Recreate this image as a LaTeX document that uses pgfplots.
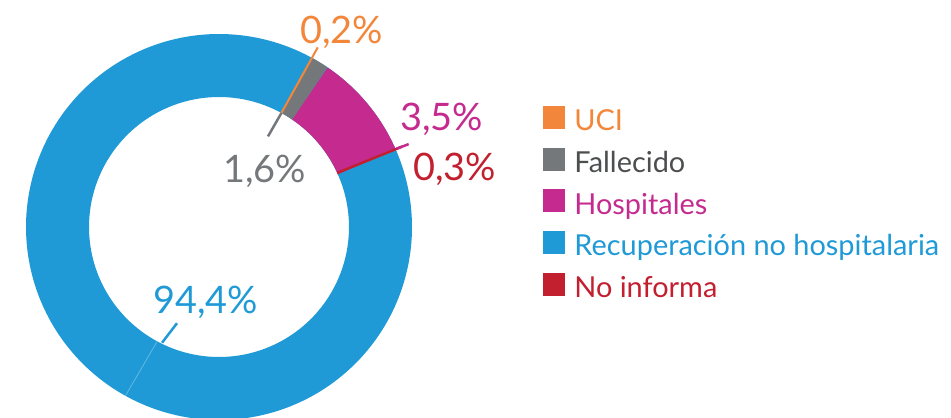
\documentclass[border=0pt]{standalone}
\usepackage{pgfplots}
\pgfplotsset{compat=1.18}
\usepackage{fontspec}
\setmainfont{Lato}
\definecolor{cblue}{HTML}{1F9AD6}
\definecolor{cblueseam}{HTML}{6BBCE4}
\definecolor{cmag}{HTML}{C52A8F}
\definecolor{cgray}{HTML}{75787B}
\definecolor{corange}{HTML}{F2873B}
\definecolor{cred}{HTML}{C2202F}
\definecolor{cdark}{HTML}{4D4E50}
\begin{document}
\begin{tikzpicture}
\begin{axis}[
  x=1bp, y=1bp, scale only axis,
  xmin=-219, xmax=732, ymin=-190, ymax=227,
  hide axis, clip=true, clip mode=individual,
  legend cell align=left,
  legend style={draw=none, fill=none, at={(0.571,0.746)}, anchor=north west,
    inner sep=0pt, outer sep=0pt, row sep=10bp,
    nodes={inner sep=0pt, outer sep=0pt, text height=22bp, text depth=7bp, font=\fontsize{29}{29}\selectfont},
    /tikz/every odd column/.append style={column sep=10bp}},
]
% fix the picture's extent to the axis rectangle
\path (rel axis cs:0,0) rectangle (rel axis cs:1,1);
% ring slices (angles in degrees, radius = middle of ring)
\addplot[forget plot, cblue, line width=63bp, data cs=polar, domain=24:421.5, samples=260] {161.5};
\addplot[forget plot, cmag, line width=63bp, data cs=polar, domain=24:55.8, samples=30] {161.5};
\addplot[forget plot, cgray, line width=63bp, data cs=polar, domain=55.8:61.5, samples=8] {161.5};
% seam and leader lines
\addplot[forget plot, cblueseam, line width=0.7bp, data cs=polar] coordinates {(241.6,130) (241.0,193)};
\addplot[forget plot, corange, line width=2bp, data cs=polar] coordinates {(61.3,130) (61.2,205)};
\addplot[forget plot, cgray, line width=2.5bp, data cs=polar] coordinates {(61.6,103) (61.3,130)};
\addplot[forget plot, cred, line width=2.5bp, data cs=polar] coordinates {(24.6,130) (23.7,200)};
\addplot[forget plot, cmag, line width=2.5bp, data cs=polar] coordinates {(23.8,194) (23.6,207)};
\addplot[forget plot, cblue, line width=2.5bp, data cs=polar] coordinates {(243.8,129) (246.4,105)};
% value labels
\node[anchor=base west, inner sep=0pt, text=corange, font=\fontsize{38}{38}\selectfont] at (axis cs:81,184) {0,2\%};
\node[anchor=base west, inner sep=0pt, text=cmag, font=\fontsize{38}{38}\selectfont] at (axis cs:181,97) {3,5\%};
\node[anchor=base west, inner sep=0pt, text=cred, font=\fontsize{38}{38}\selectfont] at (axis cs:194,47) {0,3\%};
\node[anchor=base west, inner sep=0pt, text=cgray, font=\fontsize{38}{38}\selectfont] at (axis cs:4,45) {1,6\%};
\node[anchor=base west, inner sep=0pt, text=cblue, font=\fontsize{38}{38}\selectfont] at (axis cs:-66,-86) {94,4\%};
% legend
\addlegendimage{legend image code/.code={\fill[corange] (0bp,-5bp) rectangle (21bp,17bp);}}
\addlegendentry{\textcolor{corange}{UCI}}
\addlegendimage{legend image code/.code={\fill[cgray] (0bp,-5bp) rectangle (21bp,17bp);}}
\addlegendentry{\textcolor{cdark}{Fallecido}}
\addlegendimage{legend image code/.code={\fill[cmag] (0bp,-5bp) rectangle (21bp,17bp);}}
\addlegendentry{\textcolor{cmag}{Hospitales}}
\addlegendimage{legend image code/.code={\fill[cblue] (0bp,-5bp) rectangle (21bp,17bp);}}
\addlegendentry{\textcolor{cblue}{Recuperación no hospitalaria}}
\addlegendimage{legend image code/.code={\fill[cred] (0bp,-5bp) rectangle (21bp,17bp);}}
\addlegendentry{\textcolor{cred}{No informa}}
\end{axis}
\end{tikzpicture}
\end{document}
